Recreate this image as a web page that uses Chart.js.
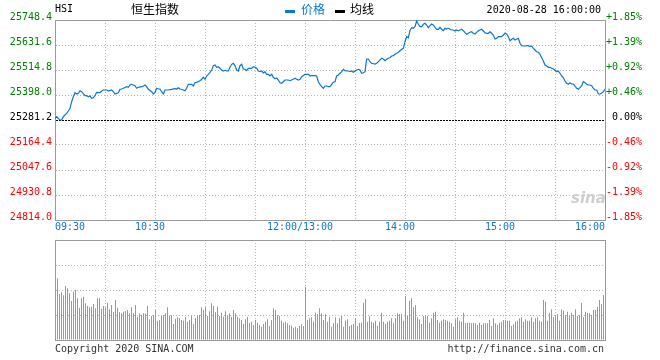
<!DOCTYPE html>
<html><head><meta charset="utf-8">
<script src="https://cdn.jsdelivr.net/npm/chart.js@4.4.1/dist/chart.umd.min.js"></script>
<style>
html,body{margin:0;padding:0;background:#fff;width:660px;height:360px;overflow:hidden;position:relative}
canvas{position:absolute;left:0}
#c1{top:0}
#c2{top:230px}
.t{position:absolute;white-space:nowrap}
.mono{font-family:"DejaVu Sans Mono",monospace;font-size:10px;line-height:10px}
.cjk{font-family:"Noto Sans CJK SC",sans-serif;font-size:12px;line-height:12px}
</style></head><body>
<canvas id="c1" width="660" height="240" style="width:660px;height:240px"></canvas>
<canvas id="c2" width="660" height="130" style="width:660px;height:130px"></canvas>
<div class="t mono" style="left:55px;top:4px;color:#000">HSI</div>
<div class="t cjk" style="left:131px;top:3px;color:#000">恒生指数</div>
<div class="t" style="left:285px;top:10px;width:10px;height:3px;background:#0a78cc"></div>
<div class="t cjk" style="left:301px;top:3px;color:#0a78cc">价格</div>
<div class="t" style="left:335px;top:10px;width:10px;height:3px;background:#000"></div>
<div class="t cjk" style="left:350px;top:3px;color:#000">均线</div>
<div class="t mono" style="right:59px;top:5px;color:#000">2020-08-28 16:00:00</div>
<div class="t" style="left:571px;top:191px;font-family:'DejaVu Sans',sans-serif;font-style:italic;font-weight:bold;font-size:15px;line-height:15px;color:#cfcfcf">sina</div>
<div class="t mono" style="left:55px;top:344px;color:#333">Copyright 2020 SINA.COM</div>
<div class="t mono" style="right:56px;top:344px;color:#333">http://finance.sina.com.cn</div>
<script>
// ---- data ----
const prevClose = 25281.2;
const priceTickValues = [24814.0, 24930.8, 25047.6, 25164.4, 25281.2, 25398.0, 25514.8, 25631.6, 25748.4];
const pctTickLabels = ['-1.85%','-1.39%','-0.92%','-0.46%','0.00%','+0.46%','+0.92%','+1.39%','+1.85%'];
const gridMinutes = [0,30,60,90,120,150,180,210,240,270,300,330];
const timeTickMinutes = [0,60,150,210,270,330];
const timeTickLabels = ['09:30','10:30','12:00/13:00','14:00','15:00','16:00'];
// trading minutes since 09:30 (lunch break removed)
const minutes = [0,1,2,3,4,5,6,7,8,9,10,11,12,13,14,15,16,18,19,20,21,22,23,24,25,27,28,29,31,32,34,35,36,38,39,40,41,43,44,45,46,48,49,50,52,53,54,55,56,58,59,60,61,62,63,64,65,66,68,70,72,73,74,75,77,78,79,80,82,83,84,85,87,88,89,90,91,92,93,94,95,96,97,98,100,101,102,103,104,105,106,107,108,109,110,111,112,113,114,115,116,117,118,119,120,121,122,123,124,125,126,127,128,129,130,131,132,133,134,135,136,137,138,140,141,143,144,145,146,147,148,150,151,152,153,154,156,157,158,159,160,161,162,163,164,165,166,167,168,169,170,171,172,173,174,175,176,177,178,179,180,181,182,183,184,185,186,187,188,189,190,192,193,194,196,197,198,199,200,201,202,203,204,205,206,207,208,209,210,211,212,213,214,215,216,217,218,219,220,221,222,223,224,225,226,227,228,229,230,231,232,233,234,235,236,237,238,239,240,241,242,243,244,245,246,247,248,249,250,251,252,253,254,255,256,257,258,259,260,261,262,263,264,265,266,267,268,269,270,271,272,273,274,275,276,277,278,279,280,281,282,283,284,285,286,287,288,289,290,291,292,293,294,295,296,297,298,299,300,301,302,303,304,305,306,307,308,309,310,311,312,313,314,315,316,317,318,319,320,321,322,323,324,325,326,327,328,329,330];
const prices = [25289.1,25296.6,25289.1,25281.2,25281.2,25296.6,25304.6,25312.5,25323.2,25335.9,25366.7,25390.1,25408.7,25402.7,25405.9,25418.1,25413.4,25394.7,25394.7,25390.1,25394.7,25382.6,25385.4,25394.7,25410.6,25408.7,25416.7,25421.4,25421.4,25416.7,25421.4,25413.4,25402.7,25408.7,25424.6,25426.0,25429.3,25436.8,25434.0,25444.7,25448.0,25441.4,25429.3,25434.0,25436.8,25440.0,25444.7,25436.8,25424.6,25413.4,25402.7,25410.6,25429.3,25426.0,25426.0,25413.4,25402.7,25421.4,25421.4,25424.6,25427.4,25426.0,25432.1,25426.0,25421.4,25418.1,25429.3,25448.0,25448.0,25440.0,25455.5,25457.3,25464.8,25471.4,25480.7,25471.4,25486.8,25494.7,25504.1,25514.8,25534.9,25538.2,25527.4,25530.2,25514.8,25510.1,25513.4,25510.1,25510.1,25527.4,25541.4,25546.1,25534.9,25514.8,25510.1,25534.9,25541.4,25519.5,25518.1,25511.5,25522.7,25522.7,25522.7,25530.2,25527.4,25522.7,25510.1,25506.9,25510.1,25500.8,25506.9,25494.7,25494.7,25486.8,25494.7,25480.7,25474.2,25477.4,25468.1,25455.5,25452.7,25460.1,25468.1,25468.1,25464.8,25471.4,25476.0,25471.4,25468.1,25471.4,25483.5,25494.7,25494.7,25494.7,25486.8,25488.2,25488.2,25486.8,25460.1,25448.0,25436.8,25429.3,25440.0,25440.0,25436.8,25436.8,25448.0,25457.3,25460.1,25486.8,25491.4,25499.4,25506.9,25518.1,25511.5,25510.1,25510.1,25506.9,25510.1,25504.1,25510.1,25514.8,25518.1,25514.8,25499.4,25502.2,25506.9,25566.2,25566.2,25553.6,25546.1,25542.8,25546.1,25553.6,25569.5,25566.2,25558.2,25564.8,25569.5,25572.3,25580.2,25581.6,25588.2,25592.8,25597.5,25605.0,25611.5,25616.2,25647.0,25670.4,25665.7,25700.0,25712.4,25709.6,25717.1,25743.7,25728.3,25717.1,25717.1,25728.3,25733.0,25725.0,25712.4,25721.8,25729.7,25725.0,25714.3,25705.0,25705.0,25714.3,25705.0,25698.4,25709.6,25706.4,25709.6,25705.0,25701.7,25701.7,25697.0,25701.7,25698.4,25701.7,25705.0,25698.4,25689.1,25681.6,25686.3,25690.9,25693.7,25686.3,25683.0,25690.9,25698.4,25701.7,25705.0,25697.0,25689.1,25686.3,25686.3,25693.7,25686.3,25678.3,25659.6,25662.9,25670.4,25670.4,25670.4,25678.3,25686.3,25683.0,25670.4,25651.7,25658.2,25662.9,25655.0,25659.6,25662.9,25639.5,25628.3,25626.9,25626.9,25628.3,25628.3,25623.7,25626.9,25616.2,25608.2,25600.3,25597.5,25588.2,25572.3,25556.8,25538.2,25533.5,25527.4,25527.4,25522.7,25519.5,25514.8,25506.9,25510.1,25499.4,25486.8,25478.8,25463.4,25452.7,25448.0,25455.5,25449.4,25449.4,25440.0,25429.3,25424.6,25432.1,25441.4,25460.1,25455.5,25448.0,25444.7,25444.7,25441.4,25429.3,25421.4,25421.4,25402.7,25402.7,25405.9,25413.4,25426.0];
const volumes = [61.7,46,48,44.7,54,51.7,46.7,39,48.3,50,41.7,32.3,41.7,43.3,36.7,34,32.7,33.3,36,31.7,41.7,41.7,31.3,34,32.7,37.3,30.7,35,28,40,32.3,28,26.7,28.3,29,30,26.7,32.7,26.7,35,23.3,26.7,25,26.7,26.7,34,20.7,24,25,30,19.3,20,24,25,26.7,32.7,24.3,24.7,16,21.3,22.7,22,20,19.3,22.7,18.3,20,24,15.7,22,24,25,32.7,30,32.7,24,28.7,36.7,34,28,33.3,24,27.3,23.3,28.7,24,26.7,23.3,30,26.7,23.3,21.7,20,16,20.7,23.3,16.7,18.3,15,20,17.3,15,13.3,16,18.3,20.7,14,20,31.7,30,25,24,19.3,17.3,18.3,16.7,15,14.3,12.3,13.3,11.7,14,15.7,14,53.3,20,21.7,22.7,18.3,27.3,26,31.7,26.7,20,25.7,18.3,23.3,
13.3,16.7,22.7,16.7,21.7,24,13.3,19.3,20.7,14,15,16,21.7,14,17.3,17.3,37.3,41,18.3,24,18.3,17.3,19.3,14,18.3,27.3,18.3,16,18.3,19.3,21.7,16.7,21.7,26.7,26,26,19.3,44,24,39,41.7,32.7,35,22.7,20.7,16,24,24.7,24,17.3,21.7,27.3,28.3,20,17.3,19.3,20.7,20,19.3,18.3,16.7,13.3,20.7,22.7,19.3,18.3,27.3,16.7,17.3,17.3,16.7,17.3,16.7,15,17.3,15,16.7,16.7,16.7,20,14,21.7,16.7,15,17.3,18.3,20,20,19.3,19.3,14,15.7,18.3,19.3,21.7,22.7,18.3,20.7,19.3,19.3,22.7,18.3,21.7,22.7,19.3,18.3,40,38.3,19.3,27.3,30.7,22.7,25,26,19.3,30.7,29.3,25,28.3,24,27.3,25,30.7,24,25,37.3,22.7,28.3,27.3,26.7,25,30,30,33.3,40,36,45,46];
const volGridTicks = [0,25,50,75,100];

// ---- styles ----
const GRID = '#b8b8b8', AXIS = '#9a9a9a', BLUE = '#0a78cc', GREEN = '#008000', RED = '#ff0000';
const monoFont = {family: '"DejaVu Sans Mono", monospace', size: 10};
const isPrev = v => Math.abs(v - prevClose) < 1e-6;
const colorFor = v => isPrev(v) ? '#000' : (v > prevClose ? GREEN : RED);
const setTicks = arr => s => { s.ticks = arr.map(v => ({value: v})); };
const yMin = priceTickValues[0], yMax = priceTickValues[priceTickValues.length - 1];

const xLabelPlugin = {
  id: 'xLabels',
  afterDraw(chart) {
    const s = chart.scales.x, ctx = chart.ctx;
    ctx.save();
    ctx.font = '10px "DejaVu Sans Mono", monospace';
    ctx.fillStyle = BLUE;
    ctx.textBaseline = 'middle';
    const last = timeTickMinutes.length - 1;
    timeTickMinutes.forEach((m, i) => {
      const px = s.getPixelForValue(m);
      let x = px - 5, align = 'center';
      if (i === 0) { x = px; align = 'left'; }
      else if (i === last) { x = px; align = 'right'; }
      ctx.textAlign = align;
      ctx.fillText(timeTickLabels[i], x, s.top + 7.5);
    });
    ctx.restore();
  }
};

new Chart(document.getElementById('c1'), {
  type: 'line',
  data: {
    datasets: [
      {data: minutes.map((m, i) => ({x: m, y: prices[i]})), borderColor: BLUE, borderWidth: 1.2,
       pointRadius: 0, tension: 0, fill: false, yAxisID: 'y', xAxisID: 'x'}
    ]
  },
  options: {
    responsive: false, animation: false, events: [],
    layout: {padding: {top: 20, right: 18, left: 0, bottom: 0}},
    plugins: {legend: {display: false}, tooltip: {enabled: false}},
    scales: {
      x: {type: 'linear', position: 'bottom', min: 0, max: 330, afterBuildTicks: setTicks(gridMinutes),
          ticks: {display: false}, grid: {color: GRID, drawTicks: false}, border: {color: AXIS, dash: [1, 2]},
          afterFit: s => { s.height = 20; }},
      xTop: {type: 'linear', position: 'top', min: 0, max: 330, ticks: {display: false},
          grid: {display: false, drawTicks: false}, border: {color: AXIS}, afterFit: s => { s.height = 0; }},
      y: {type: 'linear', position: 'left', min: yMin, max: yMax, afterBuildTicks: setTicks(priceTickValues),
          ticks: {font: monoFont, color: c => colorFor(c.tick.value), padding: 3, labelOffset: -3, autoSkip: false,
                  callback: v => v.toFixed(1)},
          grid: {color: c => (c.tick && isPrev(c.tick.value)) ? '#000' : GRID, drawTicks: false},
          border: {color: AXIS, dash: c => (c.tick && isPrev(c.tick.value)) ? [2, 1] : [1, 2]},
          afterFit: s => { s.width = 55; }},
      yR: {type: 'linear', position: 'right', min: yMin, max: yMax, afterBuildTicks: setTicks(priceTickValues),
          ticks: {font: monoFont, color: c => colorFor(c.tick.value), crossAlign: 'far', labelOffset: -3, autoSkip: false,
                  callback: (v, i) => pctTickLabels[i]},
          grid: {display: false, drawTicks: false}, border: {color: AXIS}, afterFit: s => { s.width = 37; }}
    }
  },
  plugins: [xLabelPlugin]
});

new Chart(document.getElementById('c2'), {
  type: 'bar',
  data: {datasets: [{data: volumes.map((v, i) => ({x: i + 1, y: v})), backgroundColor: '#999', borderWidth: 0,
                     barThickness: 1, inflateAmount: 0, grouped: false}]},
  options: {
    responsive: false, animation: false, events: [],
    layout: {padding: {top: 10, bottom: 20, left: 55, right: 55}},
    plugins: {legend: {display: false}, tooltip: {enabled: false}},
    scales: {
      x: {type: 'linear', position: 'bottom', offset: false, min: -0.25, max: 274.75,
          afterBuildTicks: s => { s.ticks = gridMinutes.map(m => ({value: m / 1.2 - 0.25})); },
          ticks: {display: false}, grid: {color: GRID, drawTicks: false, offset: false}, border: {color: AXIS, dash: [1, 2]},
          afterFit: s => { s.height = 0; }},
      xTop: {type: 'linear', position: 'top', offset: false, min: 0, max: 1, ticks: {display: false},
          grid: {display: false, drawTicks: false}, border: {color: AXIS}, afterFit: s => { s.height = 0; }},
      y: {type: 'linear', position: 'left', min: 0, max: 100, afterBuildTicks: setTicks(volGridTicks),
          ticks: {display: false}, grid: {color: GRID, drawTicks: false}, border: {color: AXIS, dash: [1, 2]},
          afterFit: s => { s.width = 0; }},
      yR: {type: 'linear', position: 'right', min: 0, max: 100, ticks: {display: false},
          grid: {display: false, drawTicks: false}, border: {color: AXIS}, afterFit: s => { s.width = 0; }}
    }
  }
});
</script>
</body></html>
